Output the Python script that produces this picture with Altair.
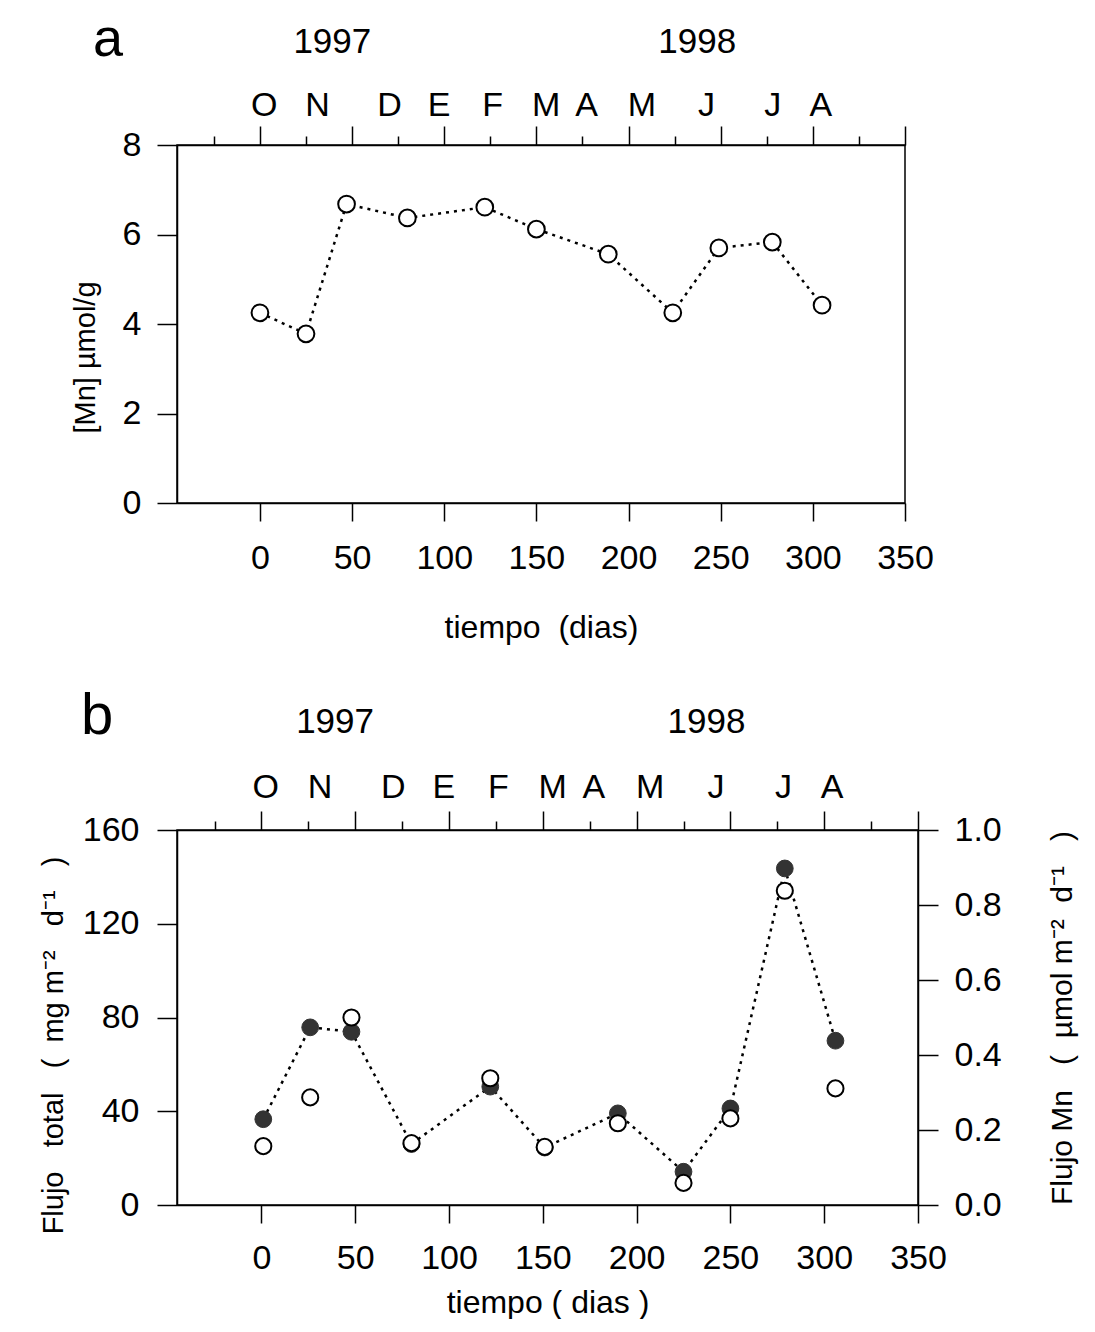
import altair as alt
import pandas as pd

FONT = "Liberation Sans, Arial, sans-serif"
SP = "\u00a0"  # non-breaking space (keeps wide gaps in titles)

# ---- Panel a data ----
dias_a = [0, 25, 47, 80, 122, 150, 189, 224, 249, 278, 305]
mn_a = [4.25, 3.78, 6.68, 6.37, 6.61, 6.12, 5.56, 4.25, 5.70, 5.83, 4.42]

# ---- Panel b data ----
dias_b = [1, 26, 48, 80, 122, 151, 190, 225, 250, 279, 306]
flujo_total = [36.6, 75.8, 73.9, 26.0, 50.5, 24.5, 39.1, 14.2, 41.2, 143.6, 70.1]
flujo_mn = [0.157, 0.287, 0.500, 0.165, 0.338, 0.155, 0.218, 0.059, 0.231, 0.838, 0.311]

# ---- top-axis labels ----
meses = ["O", "N", "D", "E", "F", "M", "A", "M", "J", "J", "A"]
meses_pos = [2, 31, 70, 97, 126, 155, 177, 207, 242, 278, 304]
anos = ["1997", "1998"]
anos_pos = [39, 237]

x_major = [0, 50, 100, 150, 200, 250, 300, 350]
x_minor = [-25, 25, 75, 125, 175, 225, 275, 325]
y_a_ticks = [0, 2, 4, 6, 8]
y_b_ticks = [0, 40, 80, 120, 160]
y_b2_ticks = [0.0, 0.2, 0.4, 0.6, 0.8, 1.0]
B_RATIO = 160  # right axis (0-1.0) drawn against the left axis (0-160)

df_a = pd.DataFrame({"dia": dias_a, "mn": mn_a})
df_b = pd.DataFrame({"dia": dias_b, "total": flujo_total, "fmn": flujo_mn})

xscale = alt.Scale(domain=[-45, 350], nice=False, zero=False)

common_axis = dict(grid=False, labelFlush=False, labelOverlap=False,
                   labelFont=FONT, titleFont=FONT, titleFontWeight="normal",
                   labelColor="black", titleColor="black",
                   domainColor="black", tickColor="black",
                   domainWidth=1.5, tickWidth=1.5)


def lookup_expr(values, labels):
    expr = "''"
    for v, lab in reversed(list(zip(values, labels))):
        expr = f"(datum.value == {v} ? '{lab}' : {expr})"
    return expr


def top_axes(month_pad, year_pad):
    major = alt.Axis(orient="top", values=x_major, tickSize=19, labels=False,
                     title=None, **common_axis)
    minor = alt.Axis(orient="top", values=x_minor, tickSize=9, labels=False,
                     domain=False, title=None, **common_axis)
    months = alt.Axis(orient="top", values=meses_pos, ticks=False, tickSize=0,
                      domain=False, title=None, labelFontSize=34,
                      labelBaseline="alphabetic", labelPadding=month_pad,
                      labelExpr=lookup_expr(meses_pos, meses), **common_axis)
    years = alt.Axis(orient="top", values=anos_pos, ticks=False, tickSize=0,
                     domain=False, title=None, labelFontSize=35,
                     labelBaseline="alphabetic", labelPadding=year_pad,
                     labelExpr=lookup_expr(anos_pos, anos), **common_axis)
    return [major, minor, months, years]


def ghost_layers(df, yfield, yscale, axes):
    # invisible copies of the series, used only to carry the top axes
    return [
        alt.Chart(df).mark_point(opacity=0).encode(
            x=alt.X("dia:Q", scale=xscale, axis=ax),
            y=alt.Y(f"{yfield}:Q", scale=yscale, axis=None),
        )
        for ax in axes
    ]


def letter_title(letter, dx, dy, size):
    return alt.Title(letter, font=FONT, fontSize=size, fontWeight="normal",
                     color="black", anchor="start", frame="group",
                     align="left", dx=dx, dy=dy, offset=0)


# ---------------- Panel a ----------------
xa_axis = alt.Axis(orient="bottom", values=x_major, tickSize=18, labelPadding=20,
                   labelFontSize=34, title=f"tiempo{SP}{SP}(dias)", titleFontSize=32,
                   titlePadding=37, **common_axis)
ya_scale = alt.Scale(domain=[0, 8], nice=False)
ya = alt.Y("mn:Q", scale=ya_scale,
           axis=alt.Axis(orient="left", values=y_a_ticks, tickSize=20, labelPadding=16,
                         labelFontSize=34, title=f"[Mn]{SP}µmol/g", titleFontSize=29,
                         titlePadding=22, titleY=212, **common_axis))

line_a = alt.Chart(df_a).mark_line(
    color="black", strokeDash=[3, 5], strokeWidth=2.5
).encode(x=alt.X("dia:Q", scale=xscale, axis=xa_axis), y=ya)

pts_a = alt.Chart(df_a).mark_point(
    shape="circle", filled=True, fill="white", stroke="black",
    strokeWidth=2, size=280, opacity=1
).encode(
    x=alt.X("dia:Q", scale=xscale, axis=None),
    y=alt.Y("mn:Q", scale=ya_scale, axis=None),
)

panel_a = alt.layer(
    line_a, pts_a, *ghost_layers(df_a, "mn", ya_scale, top_axes(30, 93))
).resolve_axis(x="independent", y="independent").properties(
    width=728, height=358, title=letter_title("a", -84, 43, 54))

# ---------------- Panel b ----------------
xb_axis = alt.Axis(orient="bottom", values=x_major, tickSize=18, labelPadding=18,
                   labelFontSize=34, title=f"tiempo{SP}({SP}dias{SP})", titleFontSize=32,
                   titlePadding=12, **common_axis)
yb_scale = alt.Scale(domain=[0, 160], nice=False)
left_b_title = (f"Flujo{SP*3}total{SP*3}({SP*2}mg{SP}m⁻²{SP*3}d⁻¹{SP*3})")
yb = alt.Y("total:Q", scale=yb_scale,
           axis=alt.Axis(orient="left", values=y_b_ticks, tickSize=20, labelPadding=18,
                         labelFontSize=34, title=left_b_title,
                         titleFontSize=29, titlePadding=14, titleY=215, **common_axis))

line_b = alt.Chart(df_b).mark_line(
    color="black", strokeDash=[3, 5], strokeWidth=2.5
).encode(x=alt.X("dia:Q", scale=xscale, axis=xb_axis), y=yb)

filled_b = alt.Chart(df_b).mark_point(
    shape="circle", filled=True, fill="#333333", stroke="#333333",
    strokeWidth=1, size=280, opacity=1
).encode(
    x=alt.X("dia:Q", scale=xscale, axis=None),
    y=alt.Y("total:Q", scale=yb_scale, axis=None),
)

right_b_title = f"Flujo{SP}Mn{SP*3}({SP*2}µmol{SP}m⁻²{SP*2}d⁻¹{SP*3})"
open_b = alt.Chart(df_b).transform_calculate(
    fmn_s=f"datum.fmn * {B_RATIO}"
).mark_point(
    shape="circle", filled=True, fill="white", stroke="black",
    strokeWidth=2, size=260, opacity=1
).encode(
    x=alt.X("dia:Q", scale=xscale, axis=None),
    y=alt.Y("fmn_s:Q", scale=yb_scale,
            axis=alt.Axis(orient="right", values=[v * B_RATIO for v in y_b2_ticks],
                          labelExpr=f"format(datum.value / {B_RATIO}, '.1f')",
                          tickSize=20, labelPadding=16, labelFontSize=34,
                          title=right_b_title, titleFontSize=30, titleAngle=270,
                          titlePadding=76, **common_axis)),
)

panel_b = alt.layer(
    line_b, filled_b, open_b,
    *ghost_layers(df_b, "total", yb_scale, top_axes(33, 98))
).resolve_axis(x="independent", y="independent").properties(
    width=741, height=375, title=letter_title("b", -96, 42, 58))

chart = alt.vconcat(panel_a, panel_b, spacing=43).properties(
    padding={"left": 30, "top": 4, "right": 0, "bottom": 0}
).configure_view(stroke="black", strokeWidth=1.5)

chart.save("out.html", embed_options={"renderer": "svg", "actions": False})
